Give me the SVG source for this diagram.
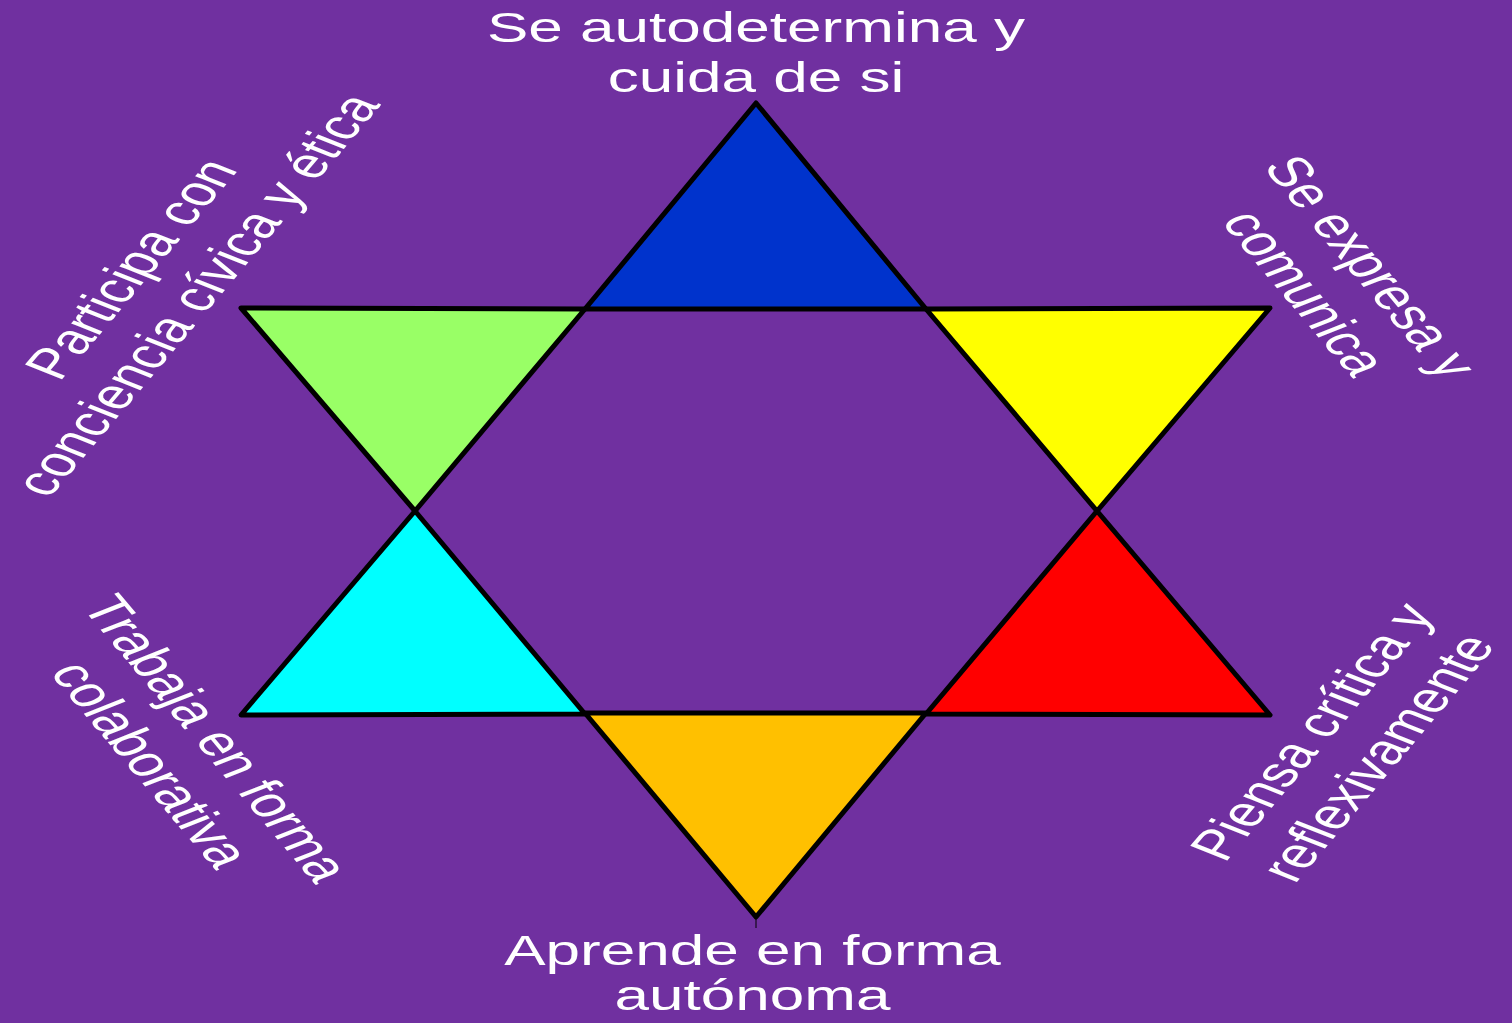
<svg xmlns="http://www.w3.org/2000/svg" width="1512" height="1023" viewBox="0 0 1512 1023">
<style>
.tri{stroke:#000;stroke-width:5;stroke-linejoin:round}
.lbl{font-family:"Liberation Sans",Arial,sans-serif;font-size:42.5px;fill:#fff;text-anchor:middle}
</style>
<rect x="0" y="0" width="1512" height="1023" fill="#7030A0"/>
<g id="connectors">
<line x1="756" y1="917" x2="756" y2="928" stroke="#000" stroke-width="1"/>
</g>
<g id="tri-top"><polygon class="tri" fill="#0033CC" points="756,103 926,309 585,309"/></g>
<g id="tri-upleft"><polygon class="tri" fill="#99FF66" points="241,308 585,309 415,511"/></g>
<g id="tri-upright"><polygon class="tri" fill="#FFFF00" points="926,309 1270,308 1097,511"/></g>
<g id="tri-lowleft"><polygon class="tri" fill="#00FFFF" points="415,511 585,714 241,715"/></g>
<g id="tri-lowright"><polygon class="tri" fill="#FF0000" points="1097,511 1270,715 926,714"/></g>
<g id="tri-bottom"><polygon class="tri" fill="#FFC000" points="585,713 926,713 756,917"/></g>
<g transform="scale(1.46,1)">
<g id="label-top">
<text class="lbl" x="517.8" y="42">Se autodetermina y</text>
<text class="lbl" x="517.8" y="92">cuida de si</text>
</g>
<g id="label-bottom">
<text class="lbl" x="515.4" y="965">Aprende en forma</text>
<text class="lbl" x="515.4" y="1010">autónoma</text>
</g>
<g id="label-upleft" transform="translate(124.7,288.8) rotate(-60)">
<text class="lbl" x="0" y="-26">Participa con</text>
<text class="lbl" x="0" y="26">conciencia cívica y ética</text>
</g>
<g id="label-upright" transform="translate(904,287) rotate(60)">
<text class="lbl" x="0" y="-26">Se expresa y</text>
<text class="lbl" x="0" y="26">comunica</text>
</g>
<g id="label-lowleft" transform="translate(113.3,758.5) rotate(60)">
<text class="lbl" x="0" y="-26">Trabaja en forma</text>
<text class="lbl" x="0" y="26">colaborativa</text>
</g>
<g id="label-lowright" transform="translate(933.4,751.8) rotate(-60)">
<text class="lbl" x="0" y="-26">Piensa crítica y</text>
<text class="lbl" x="0" y="26">reflexivamente</text>
</g>
</g>
</svg>
